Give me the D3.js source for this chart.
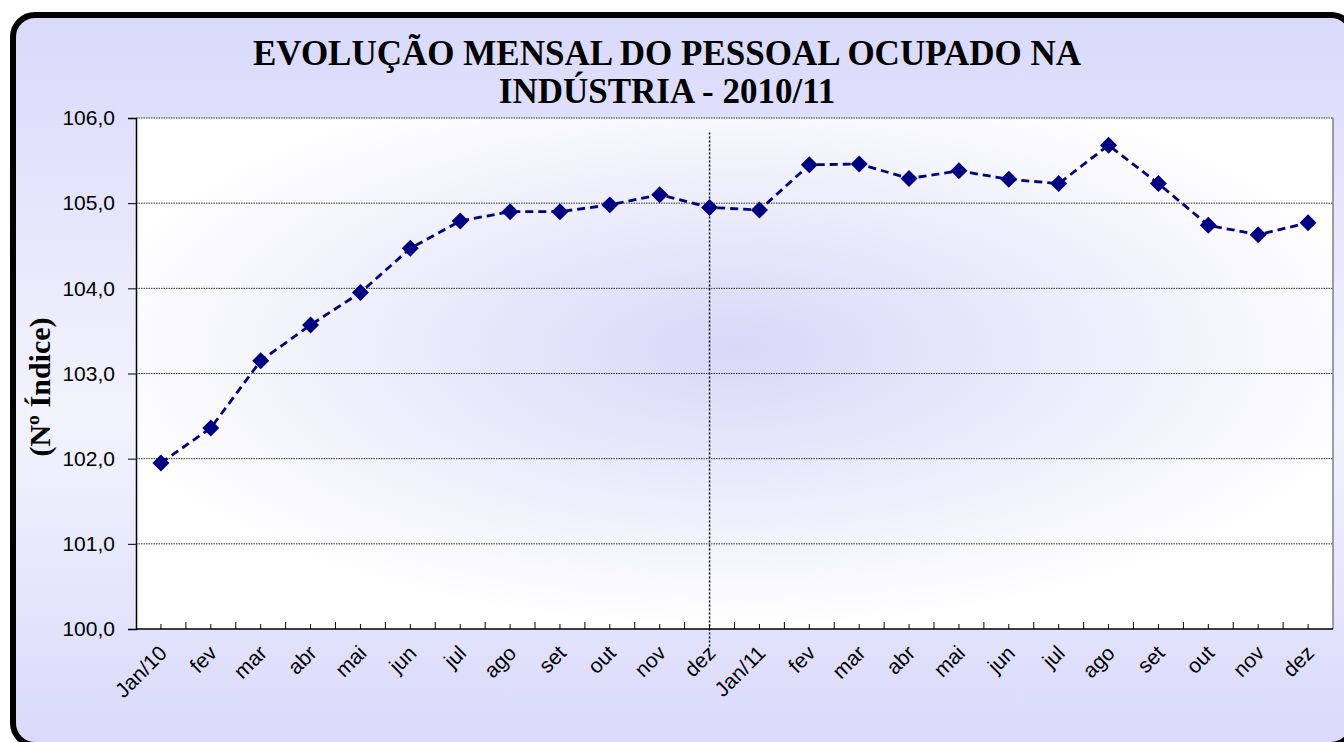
<!DOCTYPE html>
<html>
  <head>
    <script src="https://cdn.jsdelivr.net/npm/d3@7"></script>
    <style>
      body { margin: 0; background: #fff; }
    </style>
  </head>
  <body>
    <svg id="chart" width="1344" height="742"></svg>
    <script>
      var months = ["Jan/10", "fev", "mar", "abr", "mai", "jun", "jul", "ago", "set", "out", "nov", "dez",
                    "Jan/11", "fev", "mar", "abr", "mai", "jun", "jul", "ago", "set", "out", "nov", "dez"];
      var values = [101.95, 102.36, 103.15, 103.57, 103.95, 104.47, 104.79, 104.90, 104.90, 104.98, 105.10, 104.95,
                    104.92, 105.45, 105.46, 105.29, 105.38, 105.28, 105.23, 105.68, 105.23, 104.74, 104.63, 104.77];
      var yTicks = [100, 101, 102, 103, 104, 105, 106];
      var markIndex = 11;        // vertical marker at dez/2010
      var markRange = [99.79, 105.83];

      var svg = d3.select("#chart");
      var defs = svg.append("defs");

      var bg = defs.append("linearGradient").attr("id", "bg")
        .attr("x1", 0).attr("y1", 0).attr("x2", 0).attr("y2", 1);
      bg.append("stop").attr("offset", "0%").attr("stop-color", "#d9d9fb");
      bg.append("stop").attr("offset", "55%").attr("stop-color", "#f3f3fd");
      bg.append("stop").attr("offset", "100%").attr("stop-color", "#d9d9fb");

      var pg = defs.append("radialGradient").attr("id", "plotbg")
        .attr("cx", 0.5).attr("cy", 0.45).attr("r", 0.55);
      pg.append("stop").attr("offset", "0%").attr("stop-color", "#d8d8f8");
      pg.append("stop").attr("offset", "100%").attr("stop-color", "#ffffff");

      // outer frame
      svg.append("rect").attr("x", 13).attr("y", 15).attr("width", 1340).attr("height", 730)
        .attr("rx", 22).attr("fill", "url(#bg)").attr("stroke", "#000").attr("stroke-width", 6);

      var pLeft = 136, pRight = 1333, pTop = 118, pBottom = 629;
      var x = d3.scaleBand().domain(d3.range(months.length)).range([pLeft, pRight]);
      var y = d3.scaleLinear().domain([100, 106]).range([pBottom, pTop]);
      var cx = i => x(i) + x.bandwidth() / 2;

      svg.append("rect").attr("x", pLeft).attr("y", pTop).attr("width", pRight - pLeft).attr("height", pBottom - pTop)
        .attr("fill", "url(#plotbg)");

      // gridlines
      svg.append("g").selectAll("line").data(yTicks.slice(1)).enter().append("line")
        .attr("x1", pLeft).attr("x2", pRight).attr("y1", d => y(d)).attr("y2", d => y(d))
        .attr("stroke", "#333").attr("stroke-width", 1).attr("stroke-dasharray", "1.5,1");

      // right border
      svg.append("line").attr("x1", pRight).attr("x2", pRight).attr("y1", pTop).attr("y2", pBottom)
        .attr("stroke", "#808080").attr("stroke-width", 1.5);

      // y axis
      var yAxis = svg.append("g").attr("transform", "translate(" + pLeft + ",0)")
        .call(d3.axisLeft(y).tickValues(yTicks).tickSize(8).tickPadding(13)
          .tickFormat(d => d3.format(".1f")(d).replace(".", ",")));
      yAxis.select(".domain").attr("stroke", "#000").attr("stroke-width", 1.5);
      yAxis.selectAll(".tick line").attr("stroke", "#000");
      yAxis.selectAll("text").attr("font-family", "Liberation Sans, Arial, sans-serif")
        .attr("font-size", 21).attr("fill", "#000");

      // x axis with boundary and centre ticks pointing inside
      svg.append("line").attr("x1", pLeft).attr("x2", pRight).attr("y1", pBottom).attr("y2", pBottom)
        .attr("stroke", "#000").attr("stroke-width", 1.5);
      svg.append("g").selectAll("line").data(d3.range(months.length)).enter().append("line")
        .attr("x1", d => cx(d)).attr("x2", d => cx(d)).attr("y1", pBottom).attr("y2", pBottom - 5)
        .attr("stroke", "#000");
      svg.append("g").selectAll("line").data(d3.range(1, months.length)).enter().append("line")
        .attr("x1", d => x(d)).attr("x2", d => x(d)).attr("y1", pBottom).attr("y2", pBottom - 7)
        .attr("stroke", "#000");
      svg.append("g").selectAll("text").data(months).enter().append("text")
        .attr("transform", (d, i) => "translate(" + (cx(i) - 3) + "," + (pBottom + 15) + ") rotate(-45)")
        .attr("text-anchor", "end").attr("dy", "0.7em")
        .attr("font-family", "Liberation Sans, Arial, sans-serif").attr("font-size", 21)
        .text(d => d);

      // vertical dotted marker
      svg.append("line").attr("x1", cx(markIndex)).attr("x2", cx(markIndex))
        .attr("y1", y(markRange[1])).attr("y2", y(markRange[0]))
        .attr("stroke", "#000").attr("stroke-width", 1.5).attr("stroke-dasharray", "2,2");

      // series
      var line = d3.line().x((d, i) => cx(i)).y(d => y(d));
      svg.append("path").attr("d", line(values)).attr("fill", "none")
        .attr("stroke", "#000080").attr("stroke-width", 2.8).attr("stroke-dasharray", "8,5");
      svg.append("g").selectAll("path").data(values).enter().append("path")
        .attr("d", d3.symbol().type(d3.symbolSquare).size(144))
        .attr("transform", (d, i) => "translate(" + cx(i) + "," + y(d) + ") rotate(45)")
        .attr("fill", "#000080");

      // titles
      var title = svg.append("text").attr("text-anchor", "middle")
        .attr("font-family", "Liberation Serif, Times New Roman, serif").attr("font-weight", "bold")
        .attr("font-size", 35);
      title.append("tspan").attr("x", 667).attr("y", 65).text("EVOLUÇÃO MENSAL DO PESSOAL OCUPADO NA");
      title.append("tspan").attr("x", 667).attr("y", 103).text("INDÚSTRIA - 2010/11");

      svg.append("text").attr("transform", "translate(50,387) rotate(-90)").attr("text-anchor", "middle")
        .attr("font-family", "Liberation Serif, Times New Roman, serif").attr("font-weight", "bold")
        .attr("font-size", 30).text("(Nº Índice)");
    </script>
  </body>
</html>
